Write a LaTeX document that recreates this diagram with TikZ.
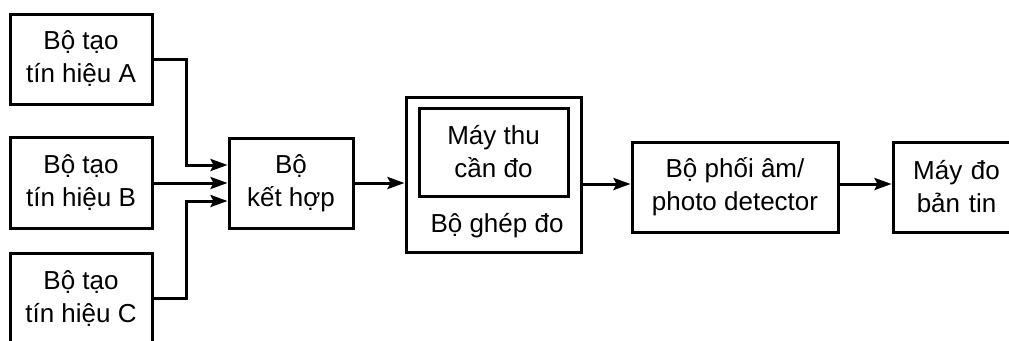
\documentclass[tikz,border=0pt]{standalone}
\usepackage{fontspec}
\setmainfont{Liberation Sans}
\usetikzlibrary{arrows.meta}
\begin{document}
\begin{tikzpicture}[x=1pt,y=-1pt,
  box/.style={draw,line width=3pt,align=center,font=\fontsize{26}{33}\selectfont,inner sep=0pt},
  lbl/.style={font=\fontsize{26}{33}\selectfont,inner sep=0pt},
  arr/.style={line width=3pt,-{Stealth[length=17pt,width=12pt,inset=3pt]}}]
\useasboundingbox (0,0) rectangle (1009,340);
\clip (0,0) rectangle (1009,340);
\node[box,minimum width=142pt,minimum height=90pt] (A) at (81,59) {Bộ tạo\\tín hiệu A};
\node[box,minimum width=142pt,minimum height=91pt] (B) at (81,183) {Bộ tạo\\tín hiệu B};
\node[box,minimum width=142pt,minimum height=91pt] (C) at (81,298.5) {Bộ tạo\\tín hiệu C};
\node[box,minimum width=124pt,minimum height=90pt] (kh) at (291,183) {Bộ\\kết hợp};
\node[box,minimum width=175pt,minimum height=155pt] (outer) at (493.5,174.5) {};
\node[box,minimum width=149pt,minimum height=88pt] (inner) at (493.5,152) {Máy thu\\cần đo};
\node[lbl,anchor=base] (ghep) at (497,232) {Bộ ghép đo};
\node[box,minimum width=206pt,minimum height=90pt] (phoi) at (735,187) {Bộ phối âm/\\photo detector};
\node[box,minimum width=127pt,minimum height=90pt,text width=127pt] (maydo) at (956.5,187) {Máy đo\\bản tin};
\coordinate (y184) at (0,184);
\draw[arr] (A.east) -- ++(33,0) |- ([yshift=18pt]kh.west);
\draw[arr] (B.east) -- (kh.west);
\draw[arr] (C.east) -- ++(33,0) |- ([yshift=-18pt]kh.west);
\draw[arr] (kh.east) -- (kh.east -| outer.west);
\draw[arr] (outer.east |- y184) -- (phoi.west |- y184);
\draw[arr] (phoi.east |- y184) -- (maydo.west |- y184);
\end{tikzpicture}
\end{document}
